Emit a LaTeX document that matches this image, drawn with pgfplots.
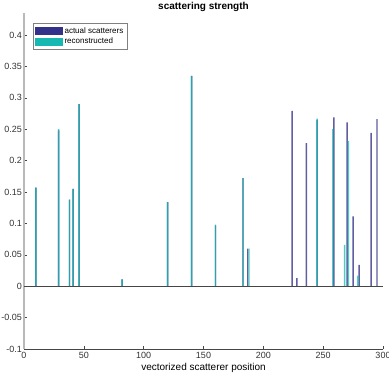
\documentclass[border=0pt]{standalone}
\usepackage{fontspec}
\setmainfont{Liberation Sans}
\usepackage{pgfplots}
\pgfplotsset{compat=1.18}

\definecolor{actualc}{RGB}{50,50,138}
\definecolor{actualbar}{RGB}{96,94,160}
\definecolor{reconc}{RGB}{24,184,178}
\definecolor{axgray}{RGB}{70,70,70}

\begin{document}
\begin{tikzpicture}
\begin{axis}[
    scale only axis,
    width=359pt, height=336pt,
    xmin=0, xmax=300,
    ymin=-0.1, ymax=0.435,
    xtick={0,50,...,300},
    ytick={-0.1,-0.05,0,0.05,0.1,0.15,0.2,0.25,0.3,0.35,0.4},
    yticklabels={-0.1,-0.05,0,0.05,0.1,0.15,0.2,0.25,0.3,0.35,0.4},
    axis x line=bottom, axis y line=left,
    x axis line style={-, axgray},
    y axis line style={-, gray!55, line width=2.2pt},
    tick align=inside,
    major tick length=3pt,
    tick style={axgray, line width=0.5pt},
    tick label style={font=\fontsize{9}{10}\selectfont, text=black!80},
    yticklabel style={xshift=1.5pt},
    /pgf/number format/assume math mode=true,
    title={\bfseries scattering strength},
    title style={font=\fontsize{10}{12}\selectfont, yshift=-8.5pt},
    xlabel={vectorized scatterer position},
    xlabel style={font=\fontsize{10}{12}\selectfont, yshift=3pt},
    legend style={at={(0.025,0.97)}, anchor=north west, draw=gray,
        font=\fontsize{8}{9}\selectfont, inner sep=2pt, row sep=-0.5pt},
    legend cell align=left,
]
\addlegendimage{legend image code/.code={\fill[actualc] (0pt,-3.5pt) rectangle (27pt,4pt);}}
\addlegendentry{actual scatterers}
\addlegendimage{legend image code/.code={\fill[reconc] (0pt,-3.5pt) rectangle (27pt,4pt);}}
\addlegendentry{reconstructed}
\addplot[ybar, bar width=1.2, bar shift=0pt, draw=none, fill=actualbar, forget plot] coordinates {
    (10,0.157) (29,0.248) (38,0.138) (41,0.155) (46,0.290) (82,0.011)
    (120,0.134) (140,0.335) (160,0.097) (183,0.172) (187,0.060)
    (224,0.279) (228,0.013) (236,0.228) (245,0.265) (259,0.269)
    (270,0.261) (275,0.111) (280,0.034) (290,0.244) (295,0.266)
};
\addplot[ybar, bar width=1.2, bar shift=0pt, draw=none, fill=reconc, fill opacity=0.75, forget plot] coordinates {
    (10,0.157) (29,0.250) (38,0.138) (41,0.155) (46,0.290) (82,0.011)
    (120,0.134) (140,0.335) (160,0.098) (183,0.172) (188,0.060)
    (245,0.267) (258,0.250) (268,0.066) (271,0.231) (279,0.017)
};
\addplot[axgray, line width=0.6pt, forget plot] coordinates {(0,0) (300,0)};
\end{axis}
\pgfresetboundingbox
\path (current axis.south west) ++(-24pt,-29pt) coordinate (bbA);
\path (current axis.north east) ++(6pt,13pt) coordinate (bbB);
\useasboundingbox (bbA) rectangle (bbB);
\end{tikzpicture}
\end{document}
